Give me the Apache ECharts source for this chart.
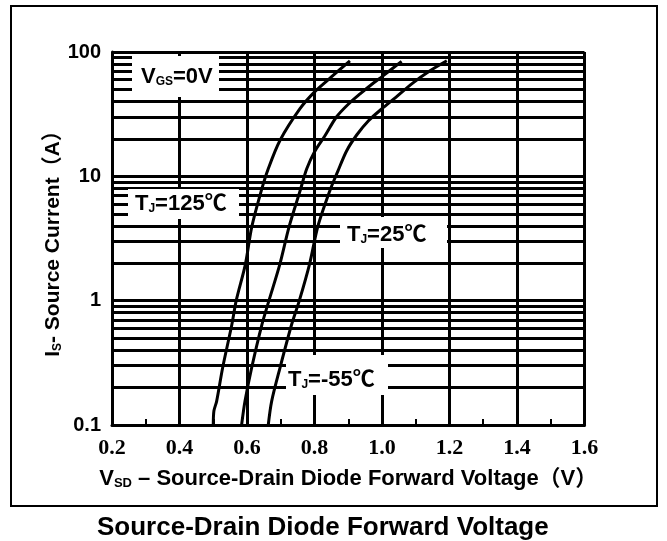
<!DOCTYPE html>
<html>
<head>
<meta charset="utf-8">
<script src="https://cdn.jsdelivr.net/npm/echarts@6/dist/echarts.min.js"></script>
<style>
  html, body { margin: 0; padding: 0; background: #fff; }
  #chart { width: 667px; height: 541px; }
</style>
</head>
<body>
<div id="chart"></div>
<script>
// curves: forward voltage (V) vs source current (A)
const voltage125 = [0.500, 0.502, 0.510, 0.528, 0.555, 0.568, 0.595, 0.614, 0.642, 0.663, 0.698, 0.757, 0.801, 0.850, 0.905];
const current125 = [0.1, 0.13, 0.155, 0.29, 0.64, 1.0, 1.95, 3.9, 7.6, 11.5, 19.5, 35, 48, 63, 85];

const voltage25 = [0.584, 0.594, 0.614, 0.644, 0.665, 0.697, 0.725, 0.757, 0.777, 0.801, 0.830, 0.865, 0.900, 0.935, 0.970, 1.002, 1.058];
const current25 = [0.1, 0.155, 0.29, 0.64, 1.0, 1.95, 3.96, 7.6, 11.5, 15.9, 21, 30, 38, 46, 55, 64, 84];

const voltage55 = [0.663, 0.673, 0.698, 0.732, 0.755, 0.785, 0.810, 0.845, 0.868, 0.895, 0.925, 0.960, 1.000, 1.040, 1.090, 1.140, 1.192];
const current55 = [0.1, 0.155, 0.29, 0.64, 1.0, 1.95, 3.96, 7.6, 10.8, 16, 21.5, 28, 35, 43, 56, 70, 85];

// log grid lines between the decades
const minorLevels = [0.2, 0.3, 0.4, 0.5, 0.6, 0.7, 0.8, 0.9,
                     2, 3, 4, 5, 6, 7, 8, 9,
                     20, 30, 40, 50, 60, 70, 80, 90];

const sans = 'Liberation Sans, Arial, "Noto Sans CJK SC"';

const pairs = (xs, ys) => xs.map((v, i) => [v, ys[i]]);

const richLabel = {
  m: { fontSize: 22, fontWeight: 'bold', fontFamily: sans, color: '#000' },
  s: { fontSize: 12, fontWeight: 'bold', fontFamily: sans, color: '#000', verticalAlign: 'bottom' }
};

function labelBox(x, y, w, h) {
  return { type: 'rect', z: 99, shape: { x: x, y: y, width: w, height: h }, style: { fill: '#fff' } };
}
function labelText(x, y, text) {
  return {
    type: 'text', z: 100, x: x, y: y,
    style: { text: text, rich: richLabel, align: 'left', verticalAlign: 'middle' }
  };
}

const chart = echarts.init(document.getElementById('chart'));

const curveStyle = { color: '#000', width: 3 };

let option = {
  animation: false,
  backgroundColor: '#fff',
  title: {
    text: 'Source-Drain Diode Forward Voltage',
    left: 92,
    top: 510,
    textStyle: { fontSize: 26, fontWeight: 'bold', fontFamily: sans, color: '#000' }
  },
  grid: { left: 112, right: 82.5, top: 52, bottom: 116 },
  xAxis: {
    type: 'value',
    min: 0.2,
    max: 1.6,
    interval: 0.2,
    axisLine: { lineStyle: { color: '#000', width: 3 } },
    axisTick: { show: true, inside: true, length: 6, lineStyle: { color: '#000', width: 2 } },
    minorTick: { show: true, splitNumber: 2, length: 6, lineStyle: { color: '#000', width: 2 } },
    splitLine: { show: true, lineStyle: { color: '#000', width: 3 } },
    axisLabel: {
      formatter: v => v.toFixed(1),
      fontFamily: 'Liberation Serif',
      fontWeight: 'bold',
      fontSize: 22,
      color: '#000',
      margin: 12
    },
    name: '{m|V}{s|SD}{m| – Source-Drain Diode Forward Voltage（V）}',
    nameLocation: 'middle',
    nameGap: 43,
    nameMoveOverlap: false,
    nameTextStyle: {
      rich: {
        m: { fontSize: 22, fontWeight: 'bold', fontFamily: sans, color: '#000' },
        s: { fontSize: 13, fontWeight: 'bold', fontFamily: sans, color: '#000', verticalAlign: 'bottom' }
      }
    }
  },
  yAxis: {
    type: 'log',
    logBase: 10,
    min: 0.1,
    max: 100,
    axisLine: { show: true, lineStyle: { color: '#000', width: 3 } },
    axisTick: { show: false },
    splitLine: { show: true, lineStyle: { color: '#000', width: 3 } },
    axisLabel: {
      formatter: v => (v < 1 ? '0.1' : String(Math.round(v))),
      fontFamily: sans,
      fontWeight: 'bold',
      fontSize: 20,
      color: '#000',
      margin: 11
    },
    name: '{m|I}{s|S}{m|- Source Current（A）}',
    nameLocation: 'middle',
    nameGap: 48,
    nameMoveOverlap: false,
    nameTextStyle: {
      rich: {
        m: { fontSize: 21, fontWeight: 'bold', fontFamily: sans, color: '#000' },
        s: { fontSize: 12, fontWeight: 'bold', fontFamily: sans, color: '#000', verticalAlign: 'bottom' }
      }
    }
  },
  series: [
    {
      name: 'TJ=125℃',
      type: 'line',
      smooth: 0.3,
      symbol: 'none',
      lineStyle: curveStyle,
      data: pairs(voltage125, current125),
      markLine: {
        silent: true,
        symbol: ['none', 'none'],
        label: { show: false },
        lineStyle: { type: 'solid', color: '#000', width: 3 },
        data: minorLevels.map(v => ({ yAxis: v }))
      }
    },
    {
      name: 'TJ=25℃',
      type: 'line',
      smooth: 0.3,
      symbol: 'none',
      lineStyle: curveStyle,
      data: pairs(voltage25, current25)
    },
    {
      name: 'TJ=-55℃',
      type: 'line',
      smooth: 0.3,
      symbol: 'none',
      lineStyle: curveStyle,
      data: pairs(voltage55, current55)
    }
  ],
  graphic: [
    { type: 'rect', z: 1, shape: { x: 11, y: 6, width: 646, height: 500 }, style: { fill: 'none', stroke: '#000', lineWidth: 2 } },
    labelBox(132, 56, 87, 41),
    labelText(141, 77, '{m|V}{s|GS}{m|=0V}'),
    labelBox(128, 189, 111, 30),
    labelText(135, 204, '{m|T}{s|J}{m|=125℃}'),
    labelBox(340, 217, 107, 31),
    labelText(347, 235, '{m|T}{s|J}{m|=25℃}'),
    labelBox(286, 355, 102, 40),
    labelText(288, 380, '{m|T}{s|J}{m|=-55℃}')
  ]
};

chart.setOption(option);
</script>
</body>
</html>
